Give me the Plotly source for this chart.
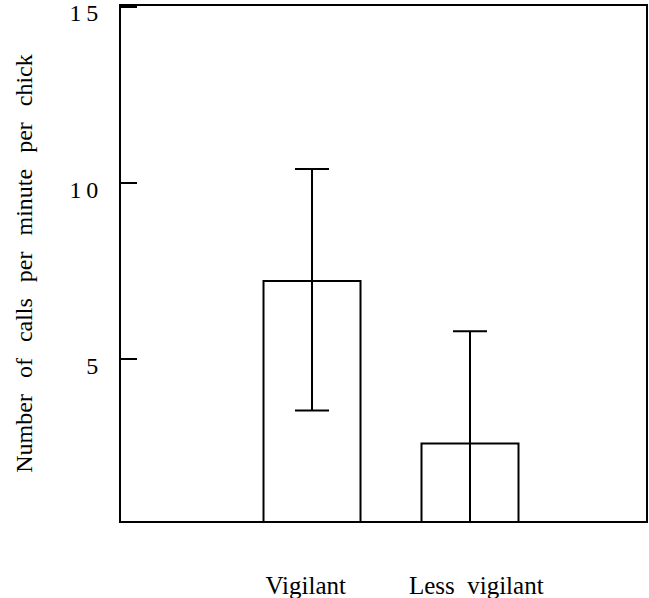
import plotly.graph_objects as go

categories = ["Vigilant\u2002", "\u2002Less\u2002vigilant"]
x_pos = [0, 1]
calls_mean = [7.22, 2.61]
err_plus = [3.18, 3.19]
err_minus = [3.67, 3.19]
y_tickvals = [5, 10, 15]
y_ticktext = ["5", "1\u20090", "1\u20095"]

fig = go.Figure()
fig.add_trace(go.Bar(
    x=x_pos, y=calls_mean, width=0.614,
    marker=dict(color="white", line=dict(color="black", width=2)),
    error_y=dict(type="data", symmetric=False, array=err_plus, arrayminus=err_minus,
                 color="black", thickness=2, width=17),
    showlegend=False,
))

serif = "Liberation Serif"
sp = "\u2002\u2006"
fig.update_layout(
    width=649, height=598,
    margin=dict(l=121, r=3, t=6, b=77),
    paper_bgcolor="white", plot_bgcolor="white",
    font=dict(family=serif, color="black", size=22),
    xaxis=dict(range=[-1.209, 2.114], tickvals=x_pos, ticktext=categories,
               showline=True, linecolor="black", linewidth=2, mirror=True,
               ticks="", showgrid=False, zeroline=False, automargin=False,
               ticklabeloverflow="allow",
               tickfont=dict(family=serif, size=25), ticklabelstandoff=41),
    yaxis=dict(range=[0.41, 15.03], tickvals=y_tickvals, ticktext=y_ticktext,
               showline=True, linecolor="black", linewidth=2, mirror=True,
               ticks="inside", ticklen=16, tickwidth=2, tickcolor="black",
               showgrid=False, zeroline=False, ticklabeloverflow="allow",
               automargin=False, ticklabelshift=6,
               tickfont=dict(family=serif, size=24), ticklabelstandoff=16,
               title=dict(text=sp.join(["Number", "of", "calls", "per", "minute", "per", "chick"]),
                          font=dict(family=serif, size=24), standoff=30)),
)
fig.write_html("out.html", config={"displayModeBar": False},
               post_script="document.body.style.margin='0';document.body.style.overflow='hidden';")
